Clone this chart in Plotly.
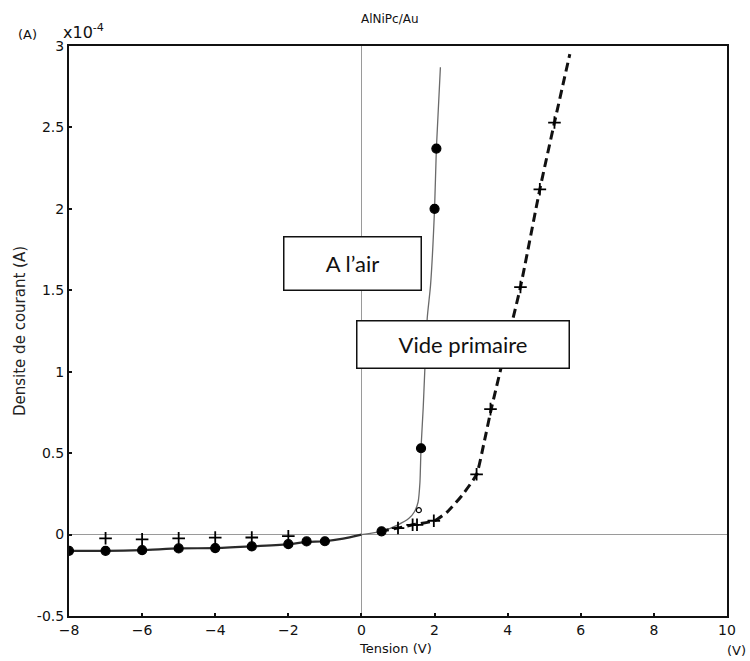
import plotly.graph_objects as go

# ---- data (current density in units of 1e-4 A, voltage in V) ----
air_line_x = [-8, -7, -6, -5, -4, -3, -2, -1.5, -1, -0.5, 0, 0.55, 1.0, 1.3, 1.45, 1.55, 1.6, 1.63, 1.69, 1.8, 1.89, 2.0, 2.05, 2.16]
air_line_y = [-0.10, -0.10, -0.096, -0.085, -0.083, -0.073, -0.059, -0.045, -0.041, -0.025, 0.0, 0.02, 0.06, 0.10, 0.14, 0.2, 0.32, 0.53, 0.78, 1.33, 1.53, 2.0, 2.37, 2.87]
air_pts_x = [-8, -7, -6, -5, -4, -3, -2, -1.5, -1, 0.55, 1.57, 1.63, 2.0, 2.05]
air_pts_y = [-0.10, -0.10, -0.096, -0.085, -0.083, -0.073, -0.059, -0.042, -0.041, 0.02, 0.15, 0.53, 2.0, 2.37]

vac_line_x = [0.5, 1.0, 1.4, 2.0, 2.35, 2.75, 3.15, 3.35, 3.55, 3.9, 4.35, 4.88, 5.28, 5.7]
vac_line_y = [0.02, 0.04, 0.06, 0.085, 0.14, 0.24, 0.37, 0.56, 0.77, 1.1, 1.52, 2.12, 2.53, 2.95]
vac_pts_x = [-7, -6, -5, -4, -3, -2, 1.0, 1.4, 1.52, 1.98, 3.15, 3.53, 4.35, 4.88, 5.28]
vac_pts_y = [-0.023, -0.029, -0.023, -0.019, -0.018, -0.01, 0.04, 0.06, 0.06, 0.085, 0.37, 0.77, 1.52, 2.12, 2.53]

x_ticks = [-8, -6, -4, -2, 0, 2, 4, 6, 8, 10]
y_ticks = [-0.5, 0, 0.5, 1, 1.5, 2, 2.5, 3]
y_tick_text = ["-0.5", "0", "0.5", "1", "1.5", "2", "2.5", "3"]

fig = go.Figure()

n_neg = 11
fig.add_trace(go.Scatter(x=air_line_x[:n_neg], y=air_line_y[:n_neg], mode="lines",
                         line=dict(color="#2a2a2a", width=2.2, shape="spline", smoothing=0.6),
                         showlegend=False, hoverinfo="skip"))
fig.add_trace(go.Scatter(x=air_line_x[n_neg - 1:], y=air_line_y[n_neg - 1:], mode="lines",
                         line=dict(color="#6a6a6a", width=1.3, shape="spline", smoothing=0.6),
                         showlegend=False, hoverinfo="skip"))
fig.add_trace(go.Scatter(x=vac_line_x, y=vac_line_y, mode="lines",
                         line=dict(color="#111111", width=3, dash="9px,5px", shape="spline", smoothing=0.5),
                         showlegend=False, hoverinfo="skip"))
fig.add_trace(go.Scatter(x=air_pts_x, y=air_pts_y, mode="markers",
                         marker=dict(symbol=["circle"] * 10 + ["circle-open"] + ["circle"] * 3,
                                     size=[9] * 10 + [5] + [9] * 3, color="#000000", opacity=1,
                                     line=dict(color="#000000", width=1.2)),
                         showlegend=False))
fig.add_trace(go.Scatter(x=vac_pts_x, y=vac_pts_y, mode="markers",
                         marker=dict(symbol="cross-thin-open", size=9, color="#000000",
                                     line=dict(color="#000000", width=1.8)),
                         showlegend=False))

tick_font = dict(family="DejaVu Sans", size=14, color="#111111")
axis_common = dict(showline=True, mirror=True, linewidth=2, linecolor="#111111",
                   ticks="inside", ticklen=3, tickwidth=2, tickcolor="#111111",
                   showgrid=False, zeroline=True, zerolinecolor="#9a9a9a", zerolinewidth=1,
                   tickfont=tick_font)

fig.update_layout(
    width=750, height=661,
    margin=dict(l=69, r=23, t=46, b=45),
    paper_bgcolor="white", plot_bgcolor="white",
    xaxis=dict(range=[-8, 10], tickvals=x_ticks, **axis_common),
    yaxis=dict(range=[-0.5, 3], tickvals=y_ticks, ticktext=y_tick_text, **axis_common,
               title=dict(text="Densite de courant (A)", font=dict(family="DejaVu Sans", size=15, color="#222"),
                          standoff=8)),
    annotations=[
        dict(text="Tension (V)", x=(395 - 69) / 658, y=0.0, xref="paper", yref="paper", yanchor="middle",
             yshift=-32, showarrow=False, font=dict(family="DejaVu Sans", size=13, color="#111")),
        dict(text="AlNiPc/Au", x=(390 - 69) / 658, y=1.0, xref="paper", yref="paper", yanchor="middle",
             yshift=27, showarrow=False, font=dict(family="DejaVu Sans", size=12, color="#111")),
        dict(text="x10<sup>-4</sup>", x=0.0, y=1.0, xref="paper", yref="paper", xanchor="left", yanchor="bottom",
             xshift=-8, yshift=2, showarrow=False, font=dict(family="DejaVu Sans", size=16, color="#111")),
        dict(text="(A)", x=0.0, y=1.0, xref="paper", yref="paper", xanchor="right", yanchor="middle",
             xshift=-30, yshift=12, showarrow=False, font=dict(family="DejaVu Sans", size=13, color="#111")),
        dict(text="(V)", x=1.0, y=0.0, xref="paper", yref="paper", xanchor="left", yanchor="middle",
             xshift=-2, yshift=-34, showarrow=False, font=dict(family="DejaVu Sans", size=13, color="#111")),
        dict(text="A l\u2019air", x=(352.5 - 69) / 658, y=(616 - 235.5) / 570, xref="paper", yref="paper",
             showarrow=False, width=134, height=50, bgcolor="white", bordercolor="#111", borderwidth=1.5,
             borderpad=1, font=dict(family="Lato", size=22, color="#111")),
        dict(text="Vide primaire", x=(462.5 - 69) / 658, y=(616 - 344) / 570, xref="paper", yref="paper",
             showarrow=False, width=209, height=44, bgcolor="white", bordercolor="#111", borderwidth=1.5,
             borderpad=1, font=dict(family="Lato", size=22, color="#111")),
    ],
)

fig.write_html("out.html")
